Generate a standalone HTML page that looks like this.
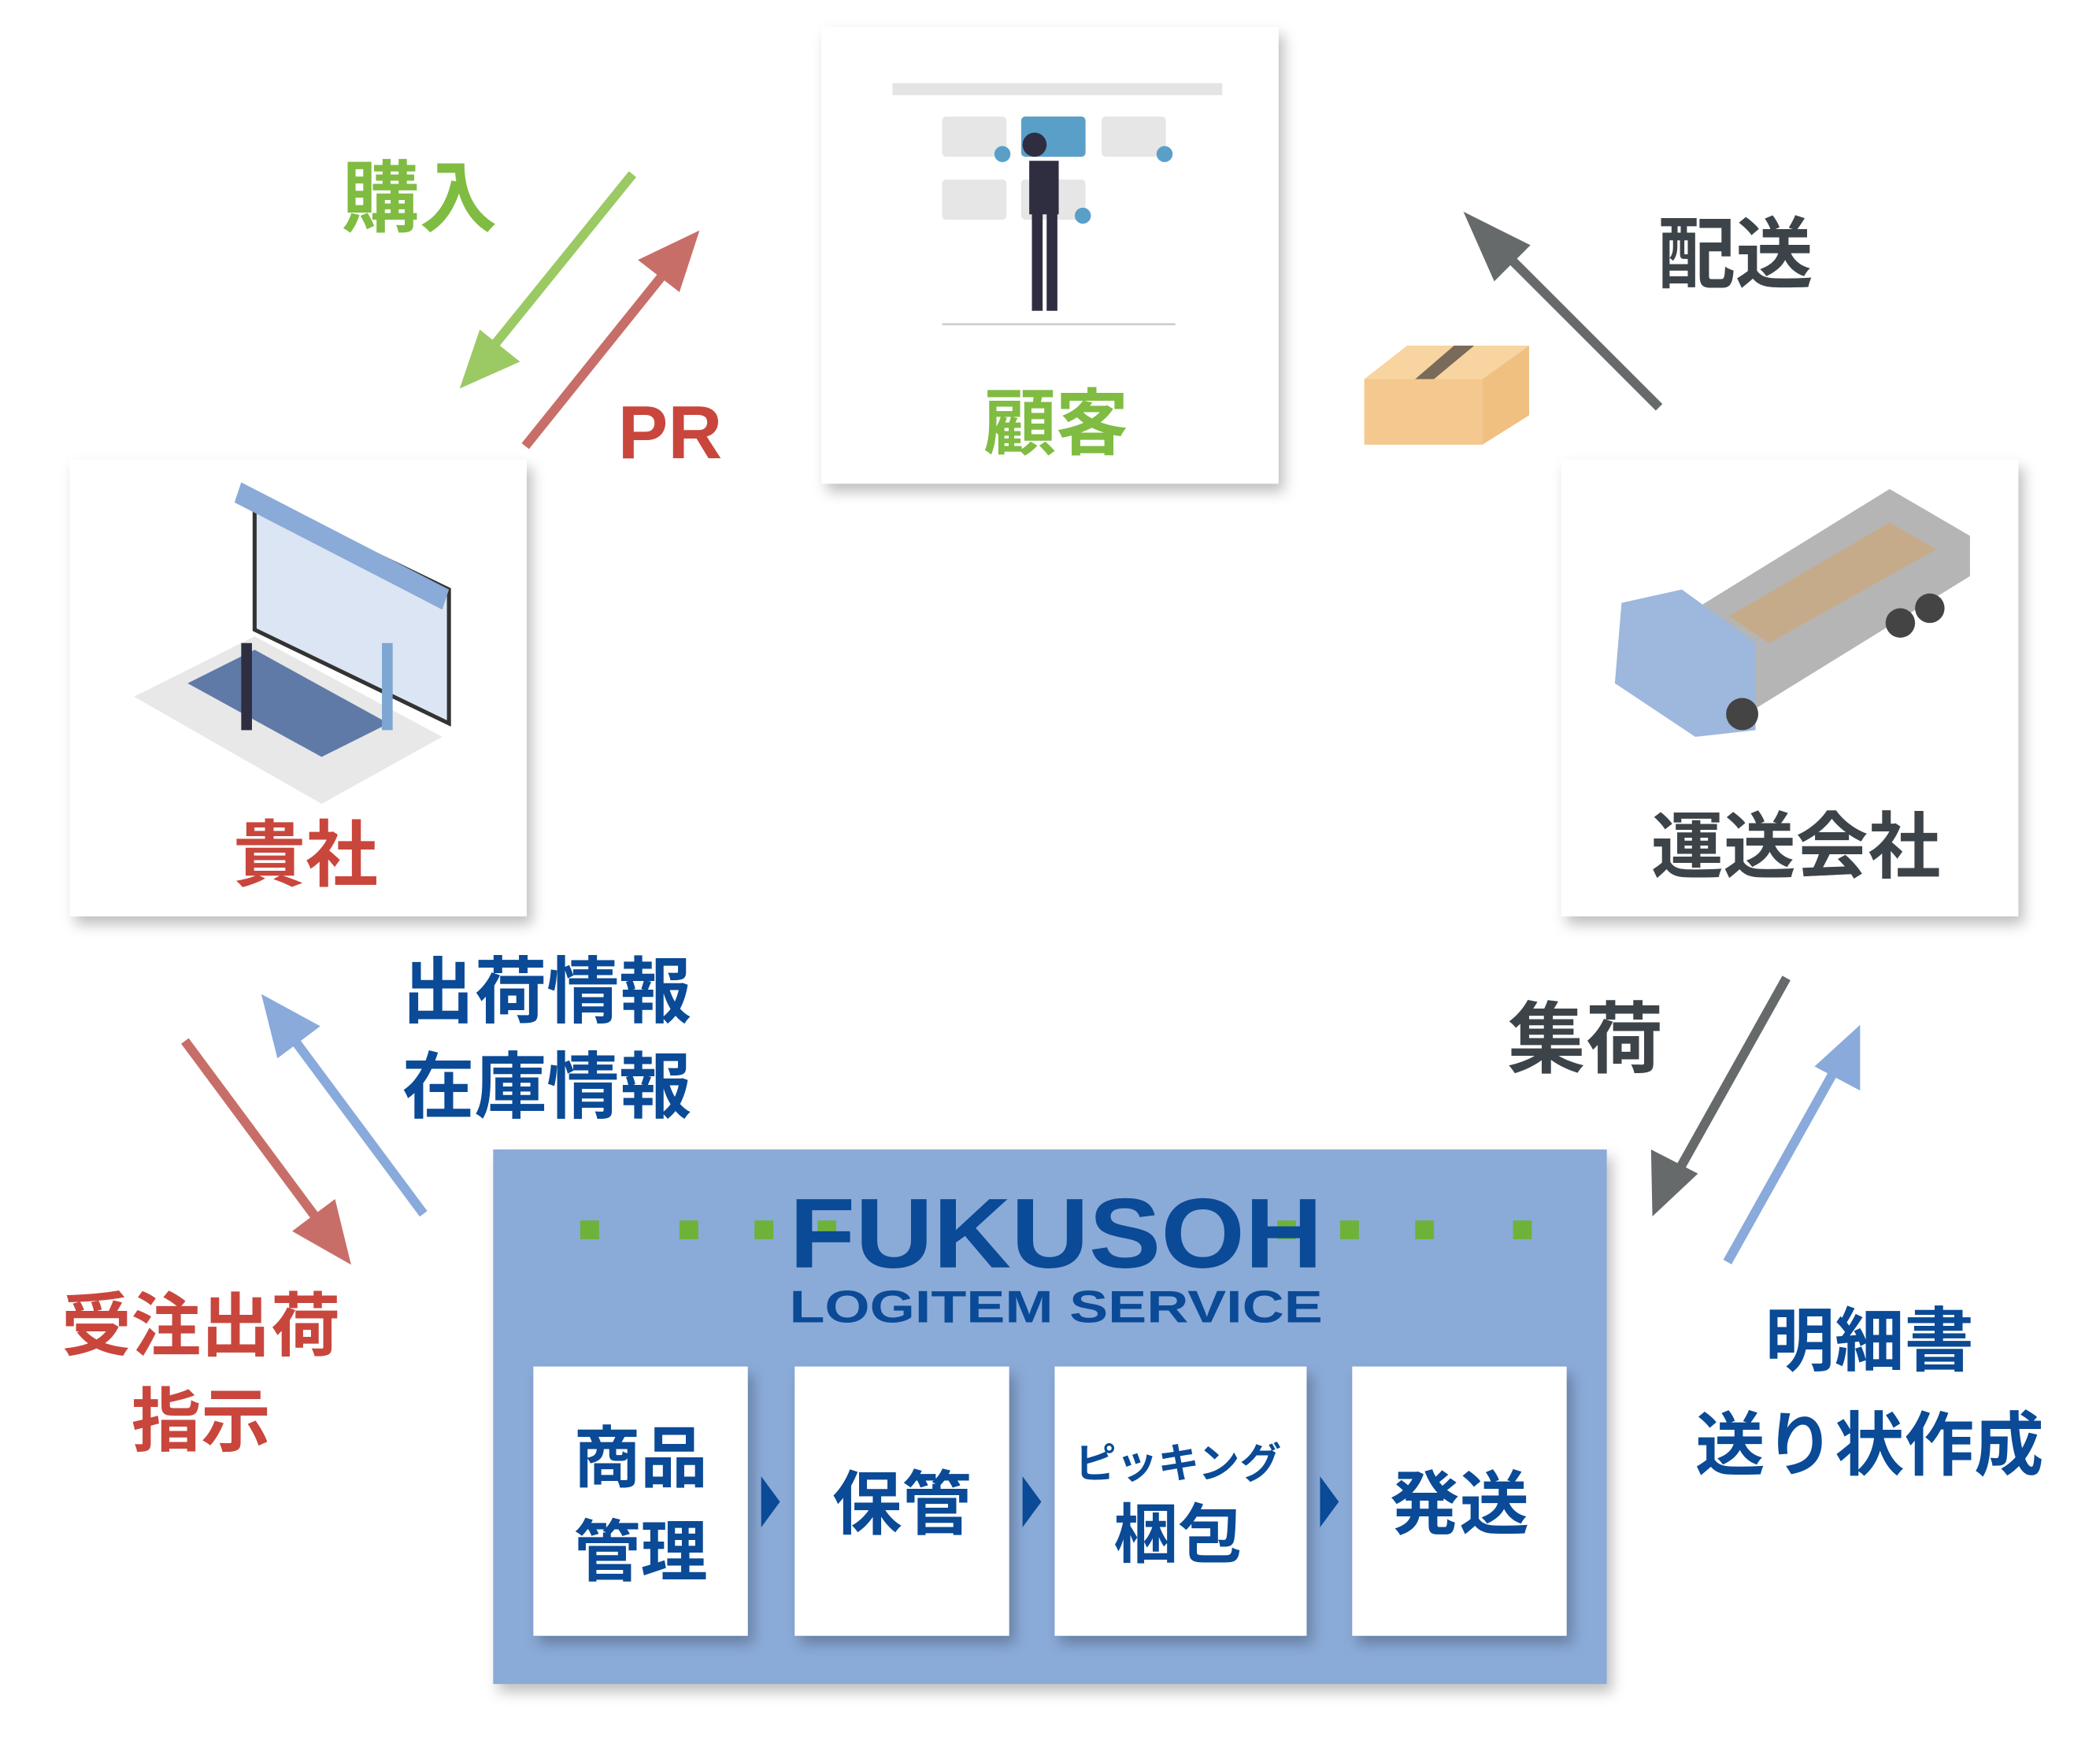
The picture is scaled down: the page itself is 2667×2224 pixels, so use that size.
<!DOCTYPE html>
<html><head><meta charset="utf-8"><style>
html,body{margin:0;padding:0;background:#fff;}
svg{display:block;}
text{font-family:"Liberation Sans","Noto Sans CJK JP",sans-serif;font-weight:bold;text-anchor:middle;}
</style></head><body>
<svg width="2667" height="2224" viewBox="0 0 1567 1307" preserveAspectRatio="none" xmlns="http://www.w3.org/2000/svg">
<defs>
<filter id="sh" x="-10%" y="-10%" width="130%" height="130%"><feDropShadow dx="4" dy="6" stdDeviation="5" flood-color="#000" flood-opacity="0.25"/></filter>
</defs>
<rect width="1567" height="1307" fill="#fff"/>
<rect x="613" y="20" width="341" height="341" fill="#fff" filter="url(#sh)"/>
<rect x="52" y="343" width="341" height="341" fill="#fff" filter="url(#sh)"/>
<rect x="1165" y="343" width="341" height="341" fill="#fff" filter="url(#sh)"/>
<rect x="666" y="62" width="246" height="9" fill="#e4e4e4"/>
<rect x="703" y="87" width="48" height="30" rx="3" fill="#e6e6e6"/>
<rect x="762" y="87" width="48" height="30" rx="3" fill="#5a9fc8"/>
<rect x="822" y="87" width="48" height="30" rx="3" fill="#e6e6e6"/>
<rect x="703" y="134" width="48" height="30" rx="3" fill="#e6e6e6"/>
<rect x="762" y="134" width="48" height="30" rx="3" fill="#e6e6e6"/>
<circle cx="748" cy="115" r="6" fill="#5a9fc8"/><circle cx="869" cy="115" r="6" fill="#5a9fc8"/><circle cx="808" cy="161" r="6" fill="#5a9fc8"/>
<path d="M768 120 h22 v40 h-22z M770 160 h8 v72 h-8z M781 160 h8 v72 h-8z" fill="#2f2e41"/>
<circle cx="772" cy="108" r="9" fill="#2f2e41"/>
<line x1="703" y1="242" x2="877" y2="242" stroke="#ccc" stroke-width="1.5"/>
<polygon points="190,370 335,440 335,540 190,470" fill="#dbe5f3" stroke="#333" stroke-width="3"/>
<polygon points="100,520 190,475 330,550 240,600" fill="#e8e8e8"/>
<polygon points="140,510 190,485 290,540 240,565" fill="#5f7aa6"/>
<polygon points="180,360 335,440 330,455 175,375" fill="#8aaad8"/>
<rect x="180" y="480" width="8" height="65" fill="#2f2e41"/><rect x="285" y="480" width="8" height="65" fill="#7ea6d3"/>
<polygon points="1240,470 1410,365 1470,400 1470,430 1300,535" fill="#b5b5b5"/>
<polygon points="1290,460 1410,390 1445,410 1320,480" fill="#c6ab8b"/>
<polygon points="1210,450 1255,440 1310,480 1310,545 1265,550 1205,510" fill="#9db7dd"/>
<circle cx="1300" cy="533" r="12" fill="#444"/><circle cx="1418" cy="465" r="11" fill="#444"/><circle cx="1440" cy="454" r="11" fill="#444"/>
<polygon points="1018,283 1050,258 1141,258 1106,283" fill="#f7d4a0"/>
<polygon points="1018,283 1106,283 1106,332 1018,332" fill="#f5c88f"/>
<polygon points="1106,283 1141,258 1141,310 1106,332" fill="#f0c080"/>
<polygon points="1056,283 1085,258 1100,258 1070,283" fill="#7a6a5a"/>
<g stroke-width="7" fill="none">
<line x1="472" y1="130" x2="362" y2="266" stroke="#9bc964"/>
<line x1="392" y1="333" x2="502" y2="196" stroke="#c86e68"/>
<line x1="1238" y1="304" x2="1114" y2="180" stroke="#666a6b"/>
<line x1="316" y1="906" x2="212" y2="766" stroke="#89aadb"/>
<line x1="138" y1="777" x2="244" y2="920" stroke="#c86e68"/>
<line x1="1333" y1="730" x2="1248" y2="882" stroke="#666a6b"/>
<line x1="1289" y1="942" x2="1374" y2="790" stroke="#89aadb"/>
</g>
<polygon points="343,290 358,246 388,270" fill="#9bc964"/>
<polygon points="522,172 476,194 507,218" fill="#c86e68"/>
<polygon points="1092,158 1142,183 1115,210" fill="#666a6b"/>
<polygon points="195,742 207,790 239,766" fill="#89aadb"/>
<polygon points="262,944 218,919 250,895" fill="#c86e68"/>
<polygon points="1233,908 1232,858 1267,876" fill="#666a6b"/>
<polygon points="1388,765 1354,796 1388,814" fill="#89aadb"/>
<text x="313" y="168" font-size="58" fill="#7fbc41">購入</text>
<text x="500" y="342" font-size="56" fill="#c9463c">PR</text>
<text x="788" y="335" font-size="54" fill="#7fbc41">顧客</text>
<text x="228" y="657" font-size="54" fill="#c9463c">貴社</text>
<text x="1295" y="210" font-size="58" fill="#3d4449">配送</text>
<text x="1340" y="651" font-size="54" fill="#3d4449">運送会社</text>
<text x="408" y="759" font-size="54" fill="#0a4a96">出荷情報</text>
<text x="408" y="830" font-size="54" fill="#0a4a96">在庫情報</text>
<text x="150" y="1008" font-size="52" fill="#c9463c">受注出荷</text>
<text x="150" y="1079" font-size="52" fill="#c9463c">指示</text>
<text x="1183" y="796" font-size="58" fill="#3d4449">集荷</text>
<text x="1395" y="1019" font-size="52" fill="#0a4a96">明細書</text>
<text x="1395" y="1097" font-size="52" fill="#0a4a96">送り状作成</text>
<rect x="368" y="858" width="831" height="399" fill="#8aaad8" filter="url(#sh)"/>
<g fill="#6fb23a">
<rect x="433" y="911" width="14" height="14"/><rect x="507" y="911" width="14" height="14"/><rect x="563" y="911" width="14" height="14"/><rect x="610" y="911" width="14" height="14"/>
<rect x="953" y="911" width="14" height="14"/><rect x="1000" y="911" width="14" height="14"/><rect x="1056" y="911" width="14" height="14"/><rect x="1129" y="911" width="14" height="14"/>
</g>
<text x="788" y="946" font-size="74" fill="#0a4a96" textLength="398" lengthAdjust="spacingAndGlyphs">FUKUSOH</text>
<text x="788" y="987" font-size="34" fill="#0a4a96" textLength="398" lengthAdjust="spacingAndGlyphs">LOGITEM SERVICE</text>
<g fill="#fff" filter="url(#sh)">
<rect x="398" y="1020" width="160" height="201"/><rect x="593" y="1020" width="160" height="201"/>
<rect x="787" y="1020" width="188" height="201"/><rect x="1009" y="1020" width="160" height="201"/>
</g>
<g fill="#0a4a96">
<polygon points="568,1102 582,1121 568,1140"/><polygon points="763,1102 777,1121 763,1140"/><polygon points="985,1102 999,1121 985,1140"/>
</g>
<text x="478" y="1106" font-size="50" fill="#0a4a96">商品</text>
<text x="478" y="1176" font-size="50" fill="#0a4a96">管理</text>
<text x="673" y="1141" font-size="52" fill="#0a4a96">保管</text>
<text x="879" y="1103" font-size="31" fill="#0a4a96">ピッキング</text>
<text x="879" y="1162" font-size="48" fill="#0a4a96">梱包</text>
<text x="1089" y="1141" font-size="52" fill="#0a4a96">発送</text>
</svg>
</body></html>
